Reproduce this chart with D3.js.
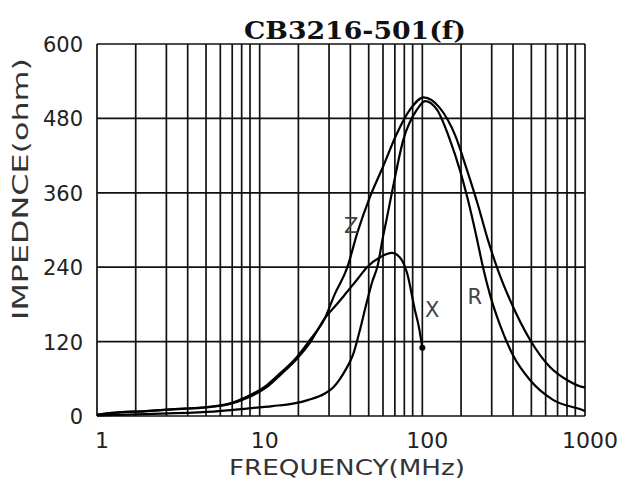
<!DOCTYPE html>
<html>
<head>
<meta charset="utf-8">
<script src="https://cdn.jsdelivr.net/npm/d3@7"></script>
<style>
  body { margin: 0; background: #fff; }
  svg { display: block; }
</style>
</head>
<body>
<div id="my_dataviz"></div>
<script>
// chart data
var yTicks = [0, 120, 240, 360, 480, 600];
var xTicks = [1, 10, 100, 1000];
// the original grid is not the usual 2..9, it sits a bit left in every decade
var minorSteps = [1.73, 2.67, 3.61, 4.68, 5.73, 6.78, 7.75, 8.72];

var zFreq = [1, 1.25, 2, 3, 4.74, 6.5, 8.35, 11.1, 13.5, 16.9, 20, 25.2, 29, 34.4, 40, 47.6, 57.3, 69.9, 83.9, 102, 128, 159, 188, 220, 253, 292, 346, 459, 609, 775, 958, 1000];
var zVals = [2, 5, 8, 11, 14.5, 20, 31, 50, 70, 95, 120, 158, 197, 238, 297, 353, 402, 456, 494, 514, 497, 453, 397, 340, 284, 235, 187, 123, 79, 58, 47, 46];

var xFreq = [1, 1.25, 2, 3, 4.74, 6.5, 8.35, 11.1, 13.5, 16.9, 20, 25.2, 30, 34.4, 40, 45.7, 55, 65, 72.6, 80.5, 90, 95, 100];
var xVals = [2, 5, 8, 11, 14, 19, 29, 47, 67, 92, 115, 158, 181, 200, 221, 240, 256, 263, 256, 231, 171, 145, 110];

var rFreq = [1, 2, 4.74, 8.35, 12, 16, 20, 25, 28.3, 31.2, 34, 37.4, 41, 45.7, 49, 53.3, 57.2, 60.6, 66, 76.3, 92.6, 104, 123, 148, 170, 191, 214, 236, 261, 300, 361, 459, 636, 958, 1000];
var rVals = [1, 3, 6.5, 12, 16, 20, 26, 36, 46, 60, 76, 98, 135, 185, 215, 244, 288, 320, 369, 445, 494, 508, 494, 445, 397, 348, 292, 240, 195, 147, 98, 58, 26, 10, 8];

var cfg = {
  width: 625,
  height: 487,
  left: 97,
  right: 585,
  top: 44,
  bottom: 416
};

var svg = d3.select("#my_dataviz")
  .append("svg")
  .attr("width", cfg.width)
  .attr("height", cfg.height);

svg.append("rect")
  .attr("width", cfg.width)
  .attr("height", cfg.height)
  .attr("fill", "#fff");

var x = d3.scaleLog()
  .domain([1, 1000])
  .range([cfg.left, cfg.right]);

var y = d3.scaleLinear()
  .domain([0, 600])
  .range([cfg.bottom, cfg.top]);

// vertical grid: decades plus the odd minor lines
var vLines = [];
[1, 10, 100].forEach(function(d) {
  vLines.push(d);
  minorSteps.forEach(function(m) { vLines.push(d * m); });
});
vLines.push(1000);

var grid = svg.append("g")
  .attr("stroke", "#111")
  .attr("stroke-width", 1.7)
  .attr("fill", "none");

grid.selectAll(".vline")
  .data(vLines)
  .enter()
  .append("line")
    .attr("class", "vline")
    .attr("x1", function(d) { return x(d); })
    .attr("x2", function(d) { return x(d); })
    .attr("y1", cfg.top)
    .attr("y2", cfg.bottom);

grid.selectAll(".hline")
  .data(yTicks)
  .enter()
  .append("line")
    .attr("class", "hline")
    .attr("x1", cfg.left)
    .attr("x2", cfg.right)
    .attr("y1", function(d) { return y(d); })
    .attr("y2", function(d) { return y(d); });

// tick labels
svg.append("g")
  .selectAll("text")
  .data(yTicks)
  .enter()
  .append("text")
    .attr("x", 83)
    .attr("y", function(d) { return y(d) + 2; })
    .attr("text-anchor", "end")
    .attr("dominant-baseline", "middle")
    .attr("font-family", "DejaVu Sans, sans-serif")
    .attr("font-size", 21)
    .attr("fill", "#222")
    .text(function(d) { return d; });

svg.append("g")
  .selectAll("text")
  .data(xTicks)
  .enter()
  .append("text")
    .attr("x", function(d) { return x(d) + 5; })
    .attr("y", 448)
    .attr("text-anchor", "middle")
    .attr("font-family", "DejaVu Sans, sans-serif")
    .attr("font-size", 22)
    .attr("fill", "#222")
    .text(function(d) { return d; });

// titles
svg.append("text")
  .attr("x", 355)
  .attr("y", 39)
  .attr("text-anchor", "middle")
  .attr("font-family", "DejaVu Serif, serif")
  .attr("font-weight", "bold")
  .attr("font-size", 25)
  .attr("textLength", 222)
  .attr("lengthAdjust", "spacingAndGlyphs")
  .attr("fill", "#111")
  .text("CB3216-501(f)");

svg.append("text")
  .attr("x", 347)
  .attr("y", 475)
  .attr("text-anchor", "middle")
  .attr("font-family", "DejaVu Sans, sans-serif")
  .attr("font-size", 22)
  .attr("textLength", 236)
  .attr("lengthAdjust", "spacingAndGlyphs")
  .attr("fill", "#333")
  .text("FREQUENCY(MHz)");

svg.append("text")
  .attr("transform", "translate(28,189) rotate(-90)")
  .attr("text-anchor", "middle")
  .attr("font-family", "DejaVu Sans, sans-serif")
  .attr("font-size", 22)
  .attr("textLength", 262)
  .attr("lengthAdjust", "spacingAndGlyphs")
  .attr("fill", "#333")
  .text("IMPEDNCE(ohm)");

// curves
var line = d3.line()
  .x(function(d) { return x(d[0]); })
  .y(function(d) { return y(d[1]); })
  .curve(d3.curveMonotoneX);

var series = [
  { name: "Z", f: zFreq, v: zVals, w: 2.2 },
  { name: "X", f: xFreq, v: xVals, w: 2.2 },
  { name: "R", f: rFreq, v: rVals, w: 2.2 }
];

svg.append("g")
  .selectAll("path")
  .data(series)
  .enter()
  .append("path")
    .attr("d", function(s) { return line(d3.zip(s.f, s.v)); })
    .attr("fill", "none")
    .attr("stroke", "#000")
    .attr("stroke-width", function(s) { return s.w; });

// end dot of X
svg.append("circle")
  .attr("cx", x(xFreq[xFreq.length - 1]))
  .attr("cy", y(xVals[xVals.length - 1]))
  .attr("r", 3)
  .attr("fill", "#000");

// curve labels
var labels = [
  { t: "Z", f: 36.5, v: 305 },
  { t: "X", f: 115, v: 170 },
  { t: "R", f: 210, v: 190 }
];

svg.append("g")
  .selectAll("text")
  .data(labels)
  .enter()
  .append("text")
    .attr("x", function(d) { return x(d.f); })
    .attr("y", function(d) { return y(d.v); })
    .attr("text-anchor", "middle")
    .attr("dominant-baseline", "middle")
    .attr("font-family", "DejaVu Sans, sans-serif")
    .attr("font-size", 21)
    .attr("fill", "#444")
    .text(function(d) { return d.t; });
</script>
</body>
</html>
